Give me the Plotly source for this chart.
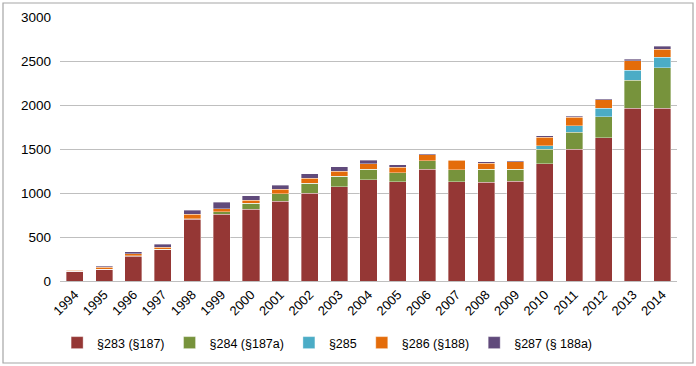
import plotly.graph_objects as go

years = [str(y) for y in range(1994, 2015)]
s283 = [110, 135, 280, 355, 700, 760, 815, 905, 1000, 1070, 1150, 1130, 1270, 1130, 1125, 1135, 1330, 1500, 1630, 1965, 1965]
s284 = [0, 0, 5, 5, 5, 25, 70, 85, 110, 120, 120, 100, 95, 135, 145, 135, 170, 190, 235, 318, 458]
s285 = [0, 0, 0, 0, 0, 0, 0, 0, 0, 0, 0, 0, 0, 0, 0, 0, 38, 75, 98, 110, 117]
s286 = [12, 20, 25, 25, 55, 35, 30, 55, 57, 57, 60, 60, 70, 105, 70, 87, 98, 98, 95, 110, 95]
s287 = [3, 10, 20, 30, 45, 75, 55, 45, 50, 53, 45, 30, 10, 8, 15, 8, 15, 8, 15, 18, 30]

names = ["§283 (§187)", "§284 (§187a)", "§285", "§286 (§188)", "§287 (§ 188a)"]
colors = ["#953735", "#77933C", "#4BACC6", "#E46C0A", "#604A7B"]
series = [s283, s284, s285, s286, s287]

fig = go.Figure()
for n, c, v in zip(names, colors, series):
    fig.add_trace(go.Bar(x=years, y=v, name=n, marker=dict(color=c, line=dict(color="rgba(255,255,255,0.6)", width=0.6))))

W, H = 696, 366
ml, mr, mt, mb = 60, 19, 17, 85
pw, ph = W - ml - mr, H - mt - mb

fig.update_layout(
    width=W, height=H,
    margin=dict(l=ml, r=mr, t=mt, b=mb, autoexpand=False),
    barmode="stack", bargap=0.42,
    plot_bgcolor="white", paper_bgcolor="white",
    font=dict(family="Liberation Sans, Arial", size=13, color="#000000"),
    showlegend=True,
    legend=dict(orientation="h", x=0.47, xanchor="center", xref="container",
                y=1 - 343 / H, yanchor="middle", yref="container",
                font=dict(size=12.5), itemwidth=30, traceorder="normal"),
    xaxis=dict(tickangle=-45, showgrid=False, showline=True, linecolor="#BFBFBF",
               tickfont=dict(size=13), ticks="", automargin=False),
    yaxis=dict(range=[0, 3000], dtick=500, showgrid=True, gridcolor="#BFBFBF", gridwidth=1,
               zeroline=False, showline=False, tickfont=dict(size=13.5), ticklabelstandoff=8,
               automargin=False),
    shapes=[dict(type="rect", xref="paper", yref="paper",
                 x0=(3 - ml) / pw, x1=(693 - ml) / pw,
                 y0=(H - mb - 363) / ph, y1=(H - mb - 3) / ph,
                 line=dict(color="#A6A6A6", width=1.2), fillcolor="rgba(0,0,0,0)", layer="below")],
)

fig.write_html("out.html", config={"displayModeBar": False},
               post_script="document.body.style.margin='0px';document.body.style.overflow='hidden';")
